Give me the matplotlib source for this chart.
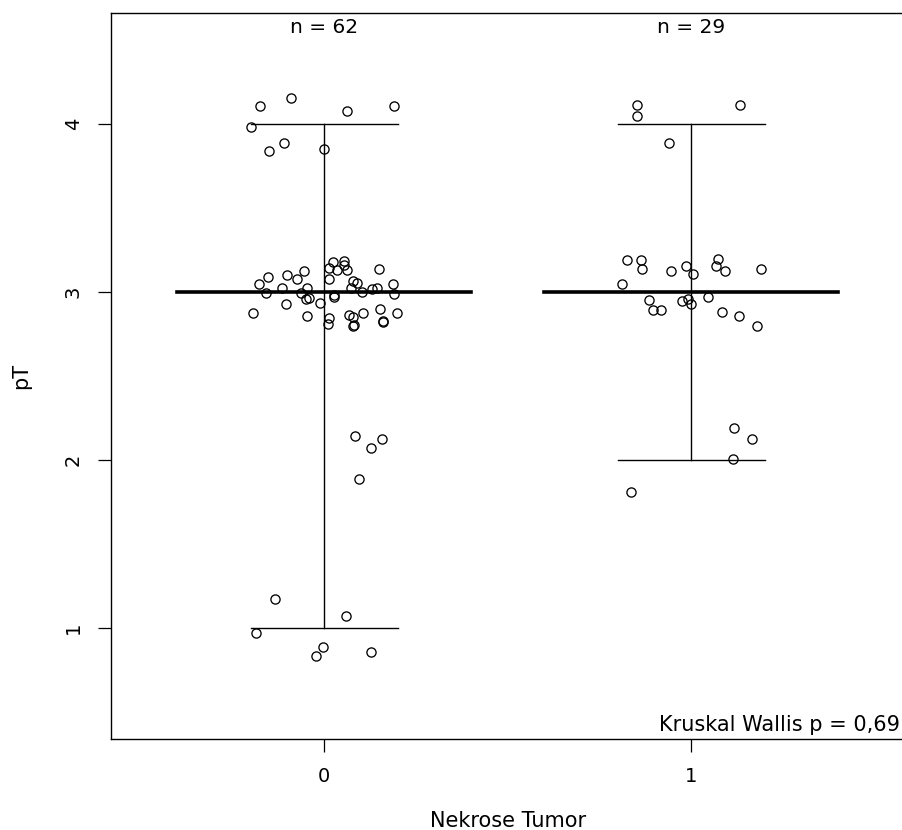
import numpy as np
import matplotlib.pyplot as plt

# pT values per Nekrose group, jittered positions as plotted (x offset around group, y jitter)
grp0_x = [-0.199, -0.174, -0.090, 0.063, 0.191, -0.150, -0.109, 0.000,
          -0.194, -0.179, -0.158, -0.153, -0.115, -0.104, -0.101, -0.074, -0.054, -0.047,
          -0.063, -0.049, -0.042, -0.048, -0.011, 0.013, 0.025, 0.013, 0.036, 0.054,
          0.055, 0.061, 0.027, 0.026, 0.013, 0.011, 0.078, 0.090, 0.072, 0.068,
          0.079, 0.079, 0.081, 0.102, 0.107, 0.131, 0.144, 0.150, 0.153, 0.159,
          0.160, 0.188, 0.190, 0.197,
          0.083, 0.157, 0.128, 0.096, -0.134, 0.060, -0.187, -0.003, -0.021, 0.128]
grp0_y = [3.984, 4.109, 4.156, 4.079, 4.109, 3.841, 3.889, 3.853,
          2.877, 3.047, 2.993, 3.089, 3.021, 2.928, 3.103, 3.075, 3.127, 3.026,
          2.993, 2.956, 2.962, 2.859, 2.934, 3.142, 3.178, 3.079, 3.133, 3.182,
          3.158, 3.128, 2.980, 2.970, 2.847, 2.812, 3.063, 3.051, 3.023, 2.861,
          2.853, 2.800, 2.806, 2.998, 2.875, 3.015, 3.023, 3.134, 2.898, 2.821,
          2.828, 3.047, 2.990, 2.877,
          2.140, 2.126, 2.071, 1.885, 1.175, 1.071, 0.970, 0.888, 0.833, 0.857]

grp1_x = [-0.148, -0.148, 0.132, -0.062,
          -0.174, -0.138, -0.135, -0.188, -0.114, -0.104, -0.083, -0.056, -0.014, 0.005,
          -0.026, -0.010, -0.001, 0.046, 0.072, 0.066, 0.093, 0.084, 0.130, 0.178, 0.190,
          0.116, 0.166, 0.114, -0.165]
grp1_y = [4.113, 4.045, 4.113, 3.889,
          3.188, 3.192, 3.138, 3.047, 2.954, 2.895, 2.895, 3.124, 3.154, 3.105,
          2.946, 2.958, 2.926, 2.970, 3.194, 3.154, 3.127, 2.879, 2.859, 2.800, 3.136,
          2.190, 2.126, 2.004, 1.807]

groups = [0, 1]
medians = [3, 3]
lows = [1, 2]
highs = [4, 4]
n_obs = [62, 29]
p_text = "Kruskal Wallis p = 0,69"

fig = plt.figure(figsize=(9.03, 8.30), dpi=100)
ax = fig.add_axes([111.3 / 903, 91 / 830, 792.9 / 903, 726 / 830])

for g, xs, ys in [(0, grp0_x, grp0_y), (1, grp1_x, grp1_y)]:
    ax.plot(g + np.array(xs), ys, 'o', ms=6.6, mfc='none', mec='black', mew=0.95, zorder=3)

# range whiskers with caps and a thick median bar per group
for g, med, lo, hi in zip(groups, medians, lows, highs):
    ax.plot([g, g], [lo, hi], color='black', lw=1.0, zorder=2)
    ax.plot([g - 0.2, g + 0.2], [lo, lo], color='black', lw=1.0, zorder=2)
    ax.plot([g - 0.2, g + 0.2], [hi, hi], color='black', lw=1.0, zorder=2)
    ax.plot([g - 0.4, g + 0.4], [med, med], color='black', lw=2.6, zorder=2)

for g, n in zip(groups, n_obs):
    ax.text(g, 0.9807, f"n = {n}", transform=ax.get_xaxis_transform(),
            ha='center', va='center', fontsize=14.5)

ax.text(0.9943, 0.011, p_text, transform=ax.transAxes, ha='right', va='baseline', fontsize=15)

ax.set_xlim(-0.58, 1.58)
ax.set_ylim(0.34, 4.66)
ax.set_xticks(groups)
ax.set_xticklabels(['0', '1'])
ax.set_yticks([1, 2, 3, 4])
ax.tick_params(axis='both', length=9.4, width=0.9, labelsize=14, pad=11)
for lab in ax.get_yticklabels():
    lab.set_rotation(90)
    lab.set_va('center')

for side in ['left', 'bottom', 'top']:
    ax.spines[side].set_linewidth(1.0)
ax.spines['right'].set_visible(False)

ax.set_xlabel('Nekrose Tumor', fontsize=15)
ax.set_ylabel('pT', fontsize=15)
ax.xaxis.set_label_coords(0.5, -(821 - 739) / 726)
ax.xaxis.label.set_va('center')
ax.yaxis.set_label_coords((21 - 111.3) / 792.9, 0.5)
ax.yaxis.label.set_va('center')

fig.savefig('out.png', dpi=100)
